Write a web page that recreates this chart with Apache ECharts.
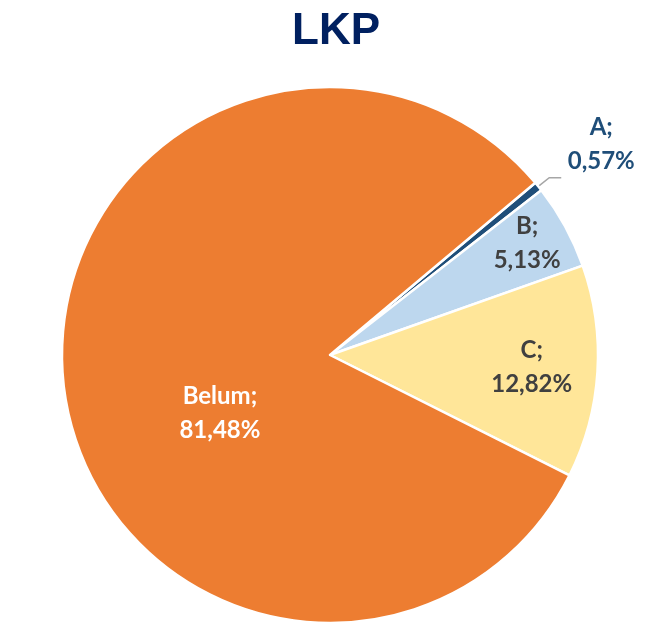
<!DOCTYPE html>
<html>
<head>
<meta charset="utf-8">
<title>LKP</title>
<script src="https://cdn.jsdelivr.net/npm/echarts@6/dist/echarts.min.js"></script>
<style>
  html, body { margin: 0; padding: 0; background: #fff; }
  #chart { width: 658px; height: 636px; }
</style>
</head>
<body>
<div id="chart"></div>
<script>
var titleText = 'LKP';
var categories = ['A', 'B', 'C', 'Belum'];
var percents = [0.57, 5.13, 12.82, 81.48];

var sliceColors = ['#1F4E79', '#BDD7EE', '#FFE699', '#ED7D31'];
var labelColors = ['#1F4E79', '#404040', '#404040', '#ffffff'];
// geser label supaya mirip posisi label excel
var labelOffsets = [[-2, -33], [77, -46], [65, 4], [26, 42]];

var chart = echarts.init(document.getElementById('chart'));

function fmtPct(v) {
    return v.toFixed(2).replace('.', ',') + '%';
}

var pieData = [];
for (var i = 0; i < categories.length; i++) {
    var lbl = {
        position: i === 0 ? 'outside' : 'inside',
        color: labelColors[i],
        offset: labelOffsets[i]
    };
    if (i === 0) {
        // label luar, dua baris rata tengah
        lbl.formatter = function (p) {
            return '{t|' + p.name + ';}\n{t|' + fmtPct(p.value) + '}';
        };
        lbl.rich = {
            t: {
                width: 74, align: 'center', color: labelColors[0],
                fontFamily: 'Lato, Open Sans, sans-serif', fontWeight: 'bold',
                fontSize: 24, lineHeight: 34
            }
        };
    }
    pieData.push({
        name: categories[i],
        value: percents[i],
        itemStyle: { color: sliceColors[i] },
        label: lbl,
        labelLine: { show: i === 0 }
    });
}

chart.setOption({
    animation: false,
    title: {
        text: titleText,
        left: 287,
        top: 5,
        textStyle: {
            fontFamily: 'Liberation Sans, Arial, sans-serif',
            fontWeight: 'bold',
            fontSize: 44,
            color: '#002060'
        }
    },
    series: [{
        type: 'pie',
        center: [330, 355],
        radius: 268,
        startAngle: 40,
        clockwise: true,
        avoidLabelOverlap: false,
        itemStyle: { borderColor: '#ffffff', borderWidth: 2.5 },
        label: {
            fontFamily: 'Lato, Open Sans, sans-serif',
            fontWeight: 'bold',
            fontSize: 24,
            lineHeight: 34,
            align: 'center',
            formatter: function (p) {
                return p.name + ';\n' + fmtPct(p.value);
            }
        },
        labelLine: {
            length: 14,
            length2: 12,
            lineStyle: { color: '#A6A6A6', width: 1.5 }
        },
        data: pieData
    }]
});
</script>
</body>
</html>
